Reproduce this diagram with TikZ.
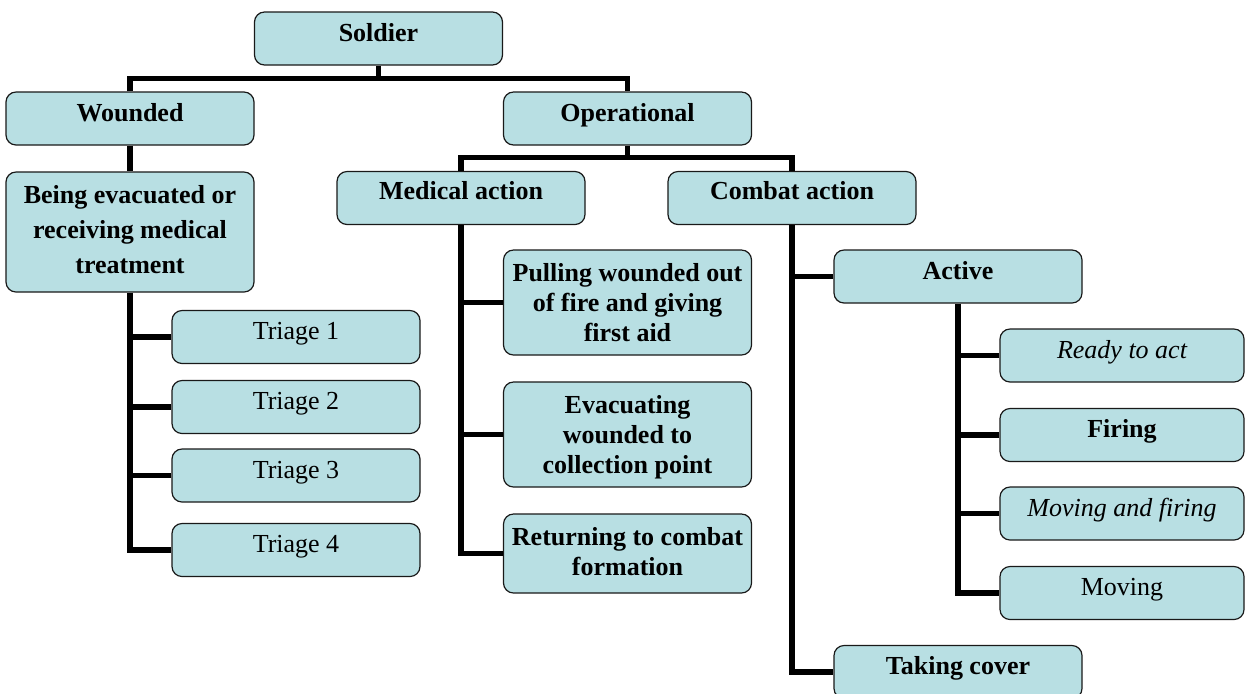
\documentclass[tikz,border=0pt]{standalone}
\usepackage{fontspec}
\setmainfont{Liberation Serif}
\usetikzlibrary{calc}
\definecolor{boxfill}{RGB}{184,223,227}
\begin{document}
\begin{tikzpicture}[x=0.5pt,y=-0.5pt,
  box/.style={draw=black!90, line width=0.6pt, fill=boxfill, rounded corners=5pt,
              minimum width=124pt, minimum height=26.5pt, inner sep=0pt},
  conn/.style={line width=2.6pt, line join=miter},
  lbl/.style={inner sep=0pt, anchor=north, align=center,
              font=\fontsize{13}{15}\selectfont\bfseries},
  one/.style={lbl, yshift=-4.25pt},
  multi/.style={lbl, yshift=-5.5pt},
  plain/.style={font=\fontsize{13}{15}\selectfont},
  ital/.style={font=\fontsize{13}{15}\selectfont\itshape}]
\clip (0,0) rectangle (1246,693);
\useasboundingbox (0,0) rectangle (1246,693);

% boxes
\node[box] (sol) at (378.5,38.5) {};
\node[box] (wnd) at (130,118.5) {};
\node[box] (opr) at (627.5,118.5) {};
\node[box, minimum height=60pt] (bev) at (130,232) {};
\node[box] (med) at (461,198) {};
\node[box] (cmb) at (792,198) {};
\node[box] (tr1) at (296,337) {};
\node[box] (tr2) at (296,407) {};
\node[box] (tr3) at (296,475.5) {};
\node[box] (tr4) at (296,550) {};
\node[box, minimum height=52.5pt] (pul) at (627.5,302.5) {};
\node[box, minimum height=52.5pt] (eva) at (627.5,434.5) {};
\node[box, minimum height=39.5pt] (ret) at (627.5,553.5) {};
\node[box] (act) at (958,276.5) {};
\node[box, minimum width=122pt] (rdy) at (1122,355.5) {};
\node[box, minimum width=122pt] (fir) at (1122,435) {};
\node[box, minimum width=122pt] (mvf) at (1122,513.5) {};
\node[box, minimum width=122pt] (mov) at (1122,593) {};
\node[box] (tkc) at (958,672) {};

% labels
\node[one] (sol-t) at (sol.north) {\strut Soldier};
\node[one] (wnd-t) at (wnd.north) {\strut Wounded};
\node[one] (opr-t) at (opr.north) {\strut Operational};
\node[lbl, yshift=-3.75pt, font=\fontsize{13}{17.5}\selectfont\bfseries] (bev-t) at (bev.north)
  {\strut Being evacuated or\\receiving medical\\treatment};
\node[one, yshift=0.75pt] (med-t) at (med.north) {\strut Medical action};
\node[one, yshift=0.75pt] (cmb-t) at (cmb.north) {\strut Combat action};
\node[one, plain] (tr1-t) at (tr1.north) {\strut Triage 1};
\node[one, plain] (tr2-t) at (tr2.north) {\strut Triage 2};
\node[one, plain] (tr3-t) at (tr3.north) {\strut Triage 3};
\node[one, plain] (tr4-t) at (tr4.north) {\strut Triage 4};
\node[multi] (pul-t) at (pul.north) {\strut Pulling wounded out\\of fire and giving\\first aid};
\node[multi] (eva-t) at (eva.north) {\strut Evacuating\\wounded to\\collection point};
\node[multi] (ret-t) at (ret.north) {\strut Returning to combat\\formation};
\node[one] (act-t) at (act.north) {\strut Active};
\node[one, ital] (rdy-t) at (rdy.north) {\strut Ready to act};
\node[one] (fir-t) at (fir.north) {\strut Firing};
\node[one, ital] (mvf-t) at (mvf.north) {\strut Moving and firing};
\node[one, plain] (mov-t) at (mov.north) {\strut Moving};
\node[one] (tkc-t) at (tkc.north) {\strut Taking cover};

% connectors
\coordinate (bus1) at (378.5,78.5);
\coordinate (bus2) at (627.5,157.5);
\draw[conn] (sol.south) -- (sol.south |- bus1);
\draw[conn] (wnd.north) -- (wnd.north |- bus1) -- (opr.north |- bus1) -- (opr.north);
\draw[conn] (wnd.south) -- (bev.north);
\draw[conn] (bev.south) |- (tr4.west);
\foreach \t in {tr1,tr2,tr3} \draw[conn] (\t.west) -- (\t.west -| bev.south);
\draw[conn] (opr.south) -- (opr.south |- bus2);
\draw[conn] (med.north) -- (med.north |- bus2) -- (cmb.north |- bus2) -- (cmb.north);
\draw[conn] (med.south) |- (ret.west);
\foreach \t in {pul,eva} \draw[conn] (\t.west) -- (\t.west -| med.south);
\draw[conn] (cmb.south) |- (tkc.west);
\draw[conn] (act.west) -- (act.west -| cmb.south);
\draw[conn] (act.south) |- (mov.west);
\foreach \t in {rdy,fir,mvf} \draw[conn] (\t.west) -- (\t.west -| act.south);
\end{tikzpicture}
\end{document}
